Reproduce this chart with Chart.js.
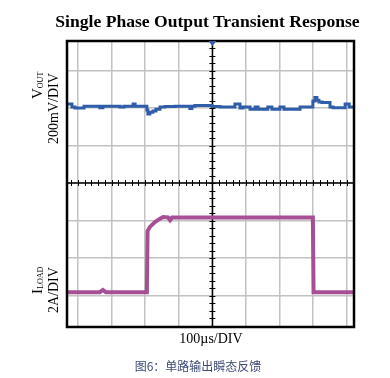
<!DOCTYPE html>
<html>
<head>
<meta charset="utf-8">
<script src="https://cdn.jsdelivr.net/npm/chart.js@4.4.1/dist/chart.umd.min.js"></script>
<style>
  html, body { margin: 0; padding: 0; background: #fff; }
  #wrap { position: relative; width: 390px; height: 378px; overflow: hidden; }
  #c { position: absolute; left: 0; top: 0; }
  .t { position: absolute; font-family: "Liberation Serif", "Times New Roman", serif; color: #000; white-space: nowrap; }
  #title { left: 0; width: 415px; top: 11px; text-align: center; font-weight: bold; font-size: 17.6px; }
  .rot { transform-origin: 0 0; transform: rotate(-90deg); font-size: 14px; line-height: 14px; }
  .big { font-size: 15px; }
  .sub { font-size: 8px; vertical-align: baseline; position: relative; top: 1px; }
  #xlab { left: 140px; width: 142px; top: 331px; text-align: center; font-size: 14px; }
  #cap { position: absolute; left: 100px; width: 196px; top: 357px; text-align: center; font-size: 12px; color: #3d4a78; font-family: "Noto Sans CJK SC", sans-serif; white-space: nowrap; }
</style>
</head>
<body>
<div id="wrap">
  <canvas id="c" width="390" height="378"></canvas>
  <div id="title" class="t">Single Phase Output Transient Response</div>
  <div class="t rot" style="left:30px; top:99px;"><span class="big">V</span><span class="sub">OUT</span></div>
  <div class="t rot" style="left:47px; top:144px;">200mV/DIV</div>
  <div class="t rot" style="left:30px; top:294px;"><span class="big">I</span><span class="sub">LOAD</span></div>
  <div class="t rot" style="left:47px; top:313px;">2A/DIV</div>
  <div id="xlab" class="t">100µs/DIV</div>
  <div id="cap">图6：单路输出瞬态反馈</div>
</div>
<script>
// Values in oscilloscope divisions (x: time divisions, y: vertical divisions)
const voutX = [-0.33,-0.18,-0.09,0.18,0.30,0.65,0.74,0.83,1.25,1.37,1.64,1.70,1.79,2.05,2.08,2.14,2.23,2.32,2.44,2.59,2.89,3.33,3.39,3.48,3.99,4.23,4.67,4.82,4.91,5.12,5.27,5.36,5.65,5.77,6.01,6.13,6.61,6.70,6.99,7.05,7.11,7.17,7.26,7.50,7.59,7.95,8.07,8.15,8.21];
const voutY = [2.05,2.11,2.03,2.00,2.05,2.05,2.01,2.05,2.05,2.03,2.05,2.11,2.05,2.05,1.95,1.84,1.89,1.92,1.97,2.03,2.04,2.05,1.99,2.05,2.07,2.04,2.03,2.11,2.00,2.03,1.97,2.03,1.97,2.03,1.97,2.03,1.97,2.03,2.03,2.19,2.28,2.21,2.16,2.15,2.03,2.01,2.11,2.03,2.03];
const iloadX = [-0.33,0.65,0.74,0.83,2.05,2.07,2.14,2.29,2.44,2.53,2.68,2.74,2.80,6.99,7.01,8.21];
const iloadY = [-2.91,-2.91,-2.85,-2.91,-2.91,-1.28,-1.17,-1.04,-0.95,-0.91,-0.92,-0.99,-0.92,-0.92,-2.91,-2.91];
const xGrid = [0,1,2,3,4,5,6,7,8];
const yGrid = [-3,-2,-1,0,1,2,3];
const xRange = [-0.327, 8.214];
const yRange = [-3.84, 3.787];
const centerX = 4, centerY = 0, minorStep = 0.2;

const toPts = (xs, ys) => xs.map((x, i) => ({x, y: ys[i]}));

const scopePlugin = {
  id: 'scope',
  beforeDatasetsDraw(chart) {
    const {ctx, chartArea: a, scales: {x, y}} = chart;
    const cx = x.getPixelForValue(centerX), cy = y.getPixelForValue(centerY);
    ctx.save();
    ctx.strokeStyle = '#000';
    ctx.lineWidth = 1.5;
    ctx.beginPath();
    ctx.moveTo(cx, a.top); ctx.lineTo(cx, a.bottom);
    ctx.moveTo(a.left, cy); ctx.lineTo(a.right, cy);
    ctx.stroke();
    ctx.lineWidth = 1;
    ctx.beginPath();
    for (let v = Math.ceil(xRange[0] / minorStep) * minorStep; v <= xRange[1]; v += minorStep) {
      const px = Math.round(x.getPixelForValue(v)) + 0.5;
      ctx.moveTo(px, cy - 3); ctx.lineTo(px, cy + 3);
    }
    for (let v = Math.ceil(yRange[0] / minorStep) * minorStep; v <= yRange[1]; v += minorStep) {
      const py = Math.round(y.getPixelForValue(v)) + 0.5;
      ctx.moveTo(cx - 3, py); ctx.lineTo(cx + 3, py);
    }
    ctx.stroke();
    ctx.restore();
  },
  afterDatasetsDraw(chart) {
    const {ctx, chartArea: a, scales: {x}} = chart;
    const cx = x.getPixelForValue(centerX);
    ctx.save();
    ctx.strokeStyle = '#000';
    ctx.lineWidth = 2.5;
    ctx.strokeRect(a.left, a.top, a.right - a.left, a.bottom - a.top);
    ctx.fillStyle = '#2f5da9';
    ctx.beginPath();
    ctx.moveTo(cx - 4, a.top); ctx.lineTo(cx + 4, a.top); ctx.lineTo(cx, a.top + 5);
    ctx.closePath(); ctx.fill();
    ctx.restore();
  }
};

new Chart(document.getElementById('c'), {
  type: 'line',
  data: {
    datasets: [
      { label: 'VOUT', data: toPts(voutX, voutY), borderColor: '#2f5da9', borderWidth: 3, pointRadius: 0, stepped: 'after', fill: false },
      { label: 'ILOAD', data: toPts(iloadX, iloadY), borderColor: '#a64f95', borderWidth: 4, pointRadius: 0, tension: 0, fill: false }
    ]
  },
  options: {
    responsive: false,
    animation: false,
    layout: { padding: { left: 67, top: 41, right: 36, bottom: 51 } },
    plugins: { legend: { display: false }, tooltip: { enabled: false }, title: { display: false } },
    scales: {
      x: {
        type: 'linear', min: xRange[0], max: xRange[1],
        afterBuildTicks: s => { s.ticks = xGrid.map(v => ({value: v})); },
        ticks: { display: false },
        grid: { color: '#c2c2c2', lineWidth: 1.5, drawTicks: false },
        border: { display: false }
      },
      y: {
        type: 'linear', min: yRange[0], max: yRange[1],
        afterBuildTicks: s => { s.ticks = yGrid.map(v => ({value: v})); },
        ticks: { display: false },
        grid: { color: '#c2c2c2', lineWidth: 1.5, drawTicks: false },
        border: { display: false }
      }
    }
  },
  plugins: [scopePlugin]
});
</script>
</body>
</html>
